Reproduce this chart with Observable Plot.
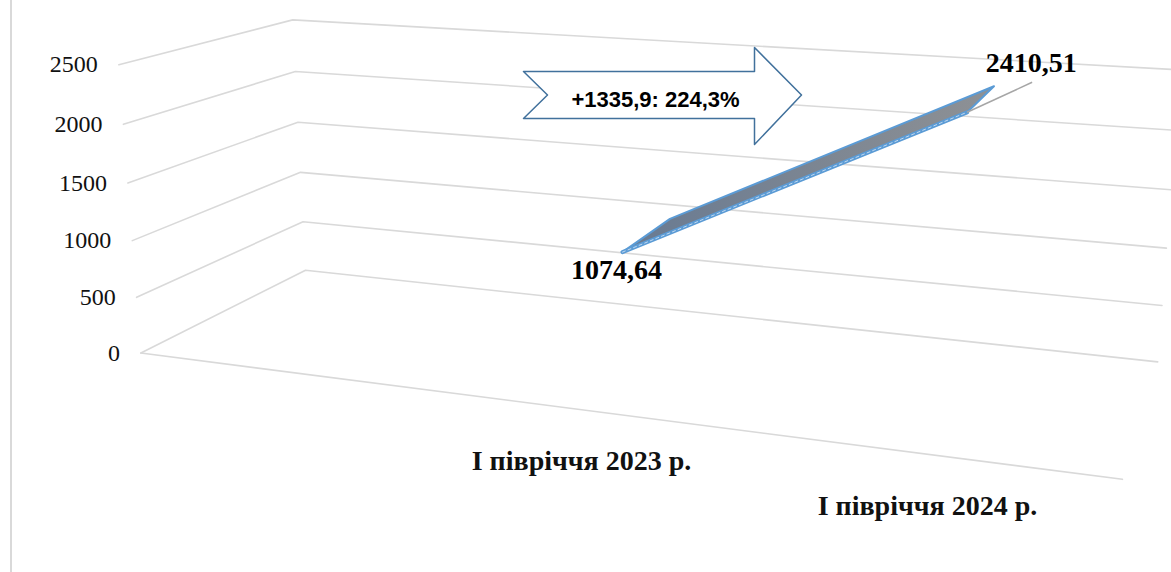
<!DOCTYPE html>
<html><head><meta charset="utf-8">
<script src="https://cdn.jsdelivr.net/npm/d3@7"></script>
<script src="https://cdn.jsdelivr.net/npm/@observablehq/plot@0.6"></script>
<style>
html,body{margin:0;padding:0;background:#fff;}
#chart{position:relative;width:1171px;height:572px;overflow:hidden;}
#frame{position:absolute;left:10px;top:0;width:2px;height:572px;background:#d9d9d9;}
</style></head><body>
<div id="chart"><div id="frame"></div></div>
<script>
// ---- data ----
const categories = ["I півріччя 2023 р.", "I півріччя 2024 р."];
const values = [1074.64, 2410.51];
const valueLabels = ["1074,64", "2410,51"];
const yTicks = [0, 500, 1000, 1500, 2000, 2500];
const yTickLabels = ["0", "500", "1000", "1500", "2000", "2500"];

// ---- 3-D view (perspective camera for the chart box: X across, Y up, Z depth) ----
const camera = [
  [1.7836, -0.0041, 0.2355, -0.9192],
  [0.1842, -0.5588, -0.1687, 0.1451],
  [-0.1719, -0.0415, 0.1589, 1]
];
const view = {scale: 500, cx: 600, cy: 280};
function proj(X, Y, Z) {
  const [a, b, c] = camera;
  const w = c[0]*X + c[1]*Y + c[2]*Z + c[3];
  return [
    (a[0]*X + a[1]*Y + a[2]*Z + a[3]) / w * view.scale + view.cx,
    (b[0]*X + b[1]*Y + b[2]*Z + b[3]) / w * view.scale + view.cy
  ];
}

// ---- style / layout ----
const ribbon = {zFront: 0.3, zBack: 0.72};
const labelOffsets = [{dx: -6, dy: 18, leader: false}, {dx: 64, dy: -49, leader: true}];
const callout = {left: 523, right: 754, tip: 801, top: 71, bottom: 118, headTop: 47, headBottom: 144, notch: 24, textX: 655, textY: 99};

// ---- scales (Plot's own) ----
const xs = Plot.scale({x: {type: "band", domain: categories, range: [1/3, 1], padding: 0}});
const ys = Plot.scale({y: {type: "linear", domain: [0, 2500], range: [0, 1]}});
const xc = c => xs.apply(c) + xs.bandwidth / 2;

// ---- derived geometry ----
const gridRows = yTicks.flatMap(t => [[0, 0], [0, 1], [1, 1]].map(([X, Z]) => {
  const q = proj(X, ys.apply(t), Z); return {t, u: q[0], v: q[1]};
}));
const floorRows = [0, 1].map(X => { const q = proj(X, 0, 0); return {u: q[0], v: q[1]}; });
const pts = categories.map((c, i) => ({c, i, X: xc(c), Y: ys.apply(values[i])}));
const topFace = [
  ...pts.map(p => proj(p.X, p.Y, ribbon.zFront)),
  ...pts.slice().reverse().map(p => proj(p.X, p.Y, ribbon.zBack))
].map(q => ({u: q[0], v: q[1]}));
const frontEdge = pts.map(p => proj(p.X, p.Y, ribbon.zFront)).map(q => ({u: q[0], v: q[1]}));
const labelRows = pts.map(p => {
  const q = proj(p.X, p.Y, ribbon.zFront), o = labelOffsets[p.i];
  return {u: q[0], v: q[1], lu: q[0] + o.dx, lv: q[1] + o.dy, text: valueLabels[p.i], leader: o.leader};
});
const fmt = x => x.toFixed(1).replace(".", ",");
const calloutText = "+" + fmt(values[1] - values[0]) + ": " + fmt(values[1] / values[0] * 100) + "%";
const C = callout;
const arrowPts = [
  [C.left, C.top], [C.right, C.top], [C.right, C.headTop], [C.tip, (C.top + C.bottom) / 2],
  [C.right, C.headBottom], [C.right, C.bottom], [C.left, C.bottom], [C.left + C.notch, (C.top + C.bottom) / 2]
].map(([u, v]) => ({u, v}));

const serif = "'Liberation Serif','Times New Roman',serif";
const chart = Plot.plot({
  width: 1171, height: 572, margin: 0,
  x: {type: "identity", axis: null}, y: {type: "identity", axis: null},
  style: {background: "transparent", overflow: "visible"},
  marks: [
    Plot.line(gridRows, {x: "u", y: "v", z: "t", stroke: "#d9d9d9", strokeWidth: 1.6}),
    Plot.line(floorRows, {x: "u", y: "v", stroke: "#d9d9d9", strokeWidth: 1.6}),
    Plot.text(yTicks, {
      x: t => proj(0, ys.apply(t), 0)[0], y: t => proj(0, ys.apply(t), 0)[1],
      text: (t, i) => yTickLabels[i], textAnchor: "end", dx: -21,
      fontFamily: serif, fontSize: 24, fill: "#111"
    }),
    Plot.text(categories, {
      x: c => proj(xc(c), 0, 0)[0], y: c => proj(xc(c), 0, 0)[1], dx: -4, dy: 51,
      text: d => d, fontFamily: serif, fontWeight: "bold", fontSize: 28, fill: "#111"
    }),
    Plot.line(topFace, {x: "u", y: "v", curve: "linear-closed", fill: "url(#ribGrad)", stroke: "#5b9bd5", strokeWidth: 2, strokeLinejoin: "round"}),
    Plot.line(frontEdge, {x: "u", y: "v", stroke: "#5b9bd5", strokeWidth: 4, strokeLinecap: "round"}),
    Plot.line(frontEdge, {x: "u", y: "v", stroke: "#dbe9f7", strokeWidth: 0.8, strokeDasharray: "3,3"}),
    Plot.link(labelRows.filter(d => d.leader), {
      x1: "u", y1: "v", x2: d => d.lu + 1, y2: d => d.v - 30, stroke: "#a6a6a6", strokeWidth: 1.5
    }),
    Plot.text(labelRows, {x: "lu", y: "lv", text: "text", fontFamily: serif, fontWeight: "bold", fontSize: 28, fill: "#000"}),
    Plot.line(arrowPts, {x: "u", y: "v", curve: "linear-closed", fill: "white", stroke: "#41719c", strokeWidth: 1.5}),
    Plot.text([calloutText], {x: () => C.textX, y: () => C.textY, text: d => d,
      fontFamily: "'Liberation Sans',Arial,sans-serif", fontWeight: "bold", fontSize: 22, fill: "#000"})
  ]
});
const svgNS = "http://www.w3.org/2000/svg";
const defs = document.createElementNS(svgNS, "defs");
defs.innerHTML = '<linearGradient id="ribGrad" x1="0" y1="0" x2="1" y2="0"><stop offset="0" stop-color="#687a92"/><stop offset="0.5" stop-color="#7b8592"/><stop offset="1" stop-color="#8e9195"/></linearGradient>';
chart.insertBefore(defs, chart.firstChild);
document.getElementById("chart").appendChild(chart);
</script></body></html>
